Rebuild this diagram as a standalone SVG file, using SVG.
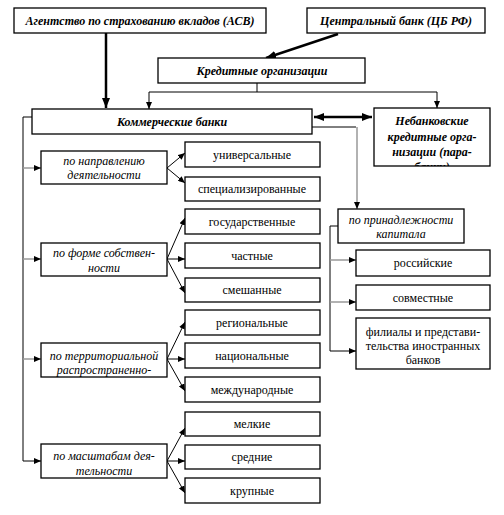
<svg xmlns="http://www.w3.org/2000/svg" width="504" height="515" viewBox="0 0 504 515">
<style>
.b{fill:#fff;stroke:#000;stroke-width:1.3}
.t{font-family:"Liberation Serif","Times New Roman",serif;font-size:12px;text-anchor:middle;fill:#000}
.h{font-style:italic;font-weight:bold}
.c{font-style:italic}
.l{fill:none;stroke:#000;stroke-width:1}
.g{fill:none;stroke:#999;stroke-width:1.5}
.k{fill:none;stroke:#000;stroke-width:2.5}
</style>
<defs>
<marker id="a" markerUnits="userSpaceOnUse" markerWidth="7" markerHeight="6" refX="7" refY="3" orient="auto"><path d="M0,0 L7,3 L0,6 z" fill="#000"/></marker>
<marker id="A" markerUnits="userSpaceOnUse" markerWidth="10" markerHeight="8" refX="10" refY="4" orient="auto-start-reverse"><path d="M0,0 L10,4 L0,8 z" fill="#000"/></marker>
<clipPath id="nb"><rect x="374" y="108" width="116" height="58"/></clipPath>
</defs>

<g id="connectors">
<line class="k" x1="106" y1="33" x2="106" y2="108" marker-end="url(#A)"/>
<line class="k" x1="338" y1="34" x2="266" y2="58" marker-end="url(#A)"/>
<polyline class="l" points="257,83 257,92"/>
<polyline class="l" points="149,92 437,92"/>
<line class="l" x1="149" y1="92" x2="149" y2="109" marker-end="url(#a)"/>
<line class="l" x1="437" y1="92" x2="437" y2="108" marker-end="url(#a)"/>
<line class="k" x1="314" y1="117" x2="372" y2="117" marker-start="url(#A)" marker-end="url(#A)"/>
<polyline class="l" points="312,127 356,127"/>
<line class="g" x1="357" y1="127" x2="357" y2="209" marker-end="url(#a)"/>
<polyline class="l" points="32,117 23,117 23,461"/>
<line class="g" x1="23" y1="168" x2="41" y2="168" marker-end="url(#a)"/>
<line class="g" x1="23" y1="259" x2="41" y2="259" marker-end="url(#a)"/>
<line class="g" x1="23" y1="359" x2="41" y2="359" marker-end="url(#a)"/>
<line class="l" x1="23" y1="461" x2="41" y2="461" marker-end="url(#a)"/>
<line class="l" x1="167" y1="168" x2="185" y2="153" marker-end="url(#a)"/>
<line class="l" x1="167" y1="168" x2="185" y2="183" marker-end="url(#a)"/>
<line class="l" x1="167" y1="259" x2="185" y2="218" marker-end="url(#a)"/>
<line class="l" x1="167" y1="259" x2="185" y2="259" marker-end="url(#a)"/>
<line class="l" x1="167" y1="259" x2="185" y2="293" marker-end="url(#a)"/>
<line class="l" x1="167" y1="359" x2="185" y2="322" marker-end="url(#a)"/>
<line class="l" x1="167" y1="359" x2="185" y2="359" marker-end="url(#a)"/>
<line class="l" x1="167" y1="359" x2="185" y2="391" marker-end="url(#a)"/>
<line class="l" x1="167" y1="461" x2="185" y2="428" marker-end="url(#a)"/>
<line class="l" x1="167" y1="461" x2="185" y2="461" marker-end="url(#a)"/>
<line class="l" x1="167" y1="461" x2="185" y2="493" marker-end="url(#a)"/>
<polyline class="l" points="338,226 330,226 330,351"/>
<line class="g" x1="330" y1="260" x2="356" y2="260" marker-end="url(#a)"/>
<line class="g" x1="330" y1="302" x2="356" y2="302" marker-end="url(#a)"/>
<line class="l" x1="330" y1="351" x2="356" y2="351" marker-end="url(#a)"/>
</g>

<g id="asv"><rect class="b" x="14" y="8" width="252" height="25"/><text class="t h" x="140" y="25">Агентство по страхованию вкладов (АСВ)</text></g>
<g id="cb"><rect class="b" x="307" y="8" width="178" height="25"/><text class="t h" x="396" y="25">Центральный банк (ЦБ РФ)</text></g>
<g id="kred"><rect class="b" x="158" y="58" width="207" height="25"/><text class="t h" x="262" y="75">Кредитные организации</text></g>
<g id="kom"><rect class="b" x="32" y="109" width="280" height="25"/><text class="t h" x="172" y="126">Коммерческие банки</text></g>
<g id="nebank"><rect class="b" x="374" y="108" width="116" height="58"/>
<g clip-path="url(#nb)"><text class="t h" x="432" y="125">Небанковские</text><text class="t h" x="432" y="141">кредитные орга-</text><text class="t h" x="432" y="156">низации (пара-</text><text class="t h" x="432" y="171">банки)</text></g></g>

<g id="napr"><rect class="b" x="41" y="151" width="126" height="33"/><text class="t c" x="104" y="165">по направлению</text><text class="t c" x="104" y="179">деятельности</text></g>
<g id="univ"><rect class="b" x="185" y="142" width="135" height="25"/><text class="t" x="252" y="159">универсальные</text></g>
<g id="spec"><rect class="b" x="185" y="177" width="135" height="24"/><text class="t" x="252" y="193">специализированные</text></g>

<g id="forma"><rect class="b" x="41" y="243" width="126" height="33"/><text class="t c" x="104" y="257">по форме собствен-</text><text class="t c" x="104" y="272">ности</text></g>
<g id="gos"><rect class="b" x="185" y="209" width="135" height="25"/><text class="t" x="252" y="226">государственные</text></g>
<g id="chast"><rect class="b" x="185" y="243" width="135" height="25"/><text class="t" x="252" y="260">частные</text></g>
<g id="smesh"><rect class="b" x="185" y="278" width="135" height="24"/><text class="t" x="252" y="294">смешанные</text></g>

<g id="terr"><rect class="b" x="41" y="343" width="126" height="34"/><text class="t c" x="104" y="360">по территориальной</text><text class="t c" x="104" y="374">распространенно-</text></g>
<g id="reg"><rect class="b" x="185" y="310" width="135" height="25"/><text class="t" x="252" y="327">региональные</text></g>
<g id="nac"><rect class="b" x="185" y="343" width="135" height="25"/><text class="t" x="252" y="360">национальные</text></g>
<g id="mezh"><rect class="b" x="185" y="377" width="135" height="25"/><text class="t" x="252" y="394">международные</text></g>

<g id="masht"><rect class="b" x="41" y="444" width="126" height="34"/><text class="t c" x="104" y="460">по масштабам дея-</text><text class="t c" x="104" y="475">тельности</text></g>
<g id="melk"><rect class="b" x="185" y="412" width="135" height="24"/><text class="t" x="252" y="428">мелкие</text></g>
<g id="sred"><rect class="b" x="185" y="445" width="135" height="24"/><text class="t" x="252" y="461">средние</text></g>
<g id="krup"><rect class="b" x="185" y="478" width="135" height="25"/><text class="t" x="252" y="495">крупные</text></g>

<g id="kap"><rect class="b" x="338" y="209" width="126" height="34"/><text class="t c" x="401" y="224">по принадлежности</text><text class="t c" x="401" y="238">капитала</text></g>
<g id="ros"><rect class="b" x="356" y="250" width="134" height="26"/><text class="t" x="423" y="267">российские</text></g>
<g id="sovm"><rect class="b" x="356" y="285" width="134" height="25"/><text class="t" x="423" y="302">совместные</text></g>
<g id="fil"><rect class="b" x="356" y="318" width="134" height="51"/><text class="t" x="423" y="336">филиалы и представи-</text><text class="t" x="423" y="350">тельства иностранных</text><text class="t" x="423" y="364">банков</text></g>
</svg>
